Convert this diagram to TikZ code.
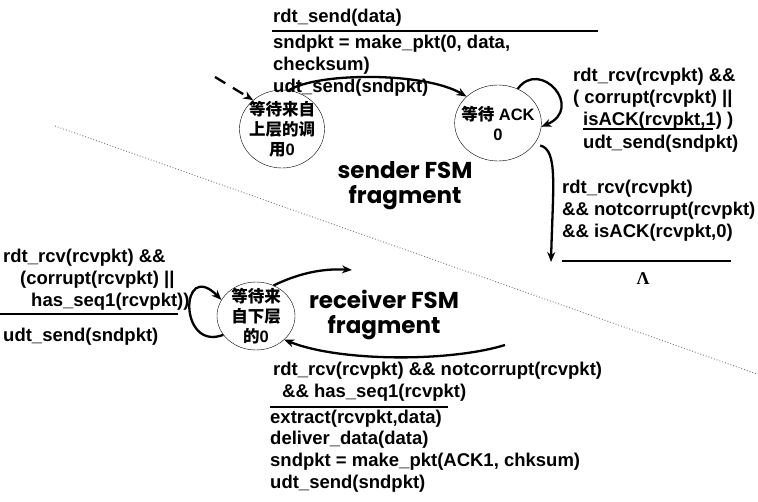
\documentclass[tikz,border=0pt]{standalone}
\usepackage{fontspec}
\setmainfont{Liberation Sans}
\newfontfamily\cjk{Noto Sans CJK SC}
\newfontfamily\comic{Poppins}
\newfontfamily\lam{Liberation Serif}
\usetikzlibrary{arrows.meta,shapes.geometric}
\tikzset{
  >={Stealth[length=10pt,width=8pt]},
  wait/.style={ellipse,draw,thin,inner sep=-6pt,align=center,
    font=\fontsize{16.5}{20}\selectfont\bfseries},
  trans/.style={->,line width=2.3pt},
  % anchored at the baseline of the last line
  guard/.style={anchor=base west,inner sep=0pt,align=left,
    font=\fontsize{18.5}{22}\selectfont\bfseries},
  fsm/.style={align=center,font=\comic\fontsize{23}{25}\selectfont\bfseries},
  bar/.style={line width=1.8pt},
}
\begin{document}
\begin{tikzpicture}[x={(1pt,0pt)},y={(0pt,-1pt)}]
  \useasboundingbox (0,0) rectangle (758,502);
  % separator
  \draw[black!55,dotted,line width=0.9pt] (55,126) -- (757,374);

  % sender fragment
  \node[wait,minimum width=85pt,minimum height=78pt] (s1) at (282,129)
    {{\cjk 等待来自}\\{\cjk 上层的调}\\{\cjk 用}0};
  \node[wait,minimum width=85pt,minimum height=76pt] (s2) at (498,123)
    {{\cjk 等待} ACK\\0};
  \coordinate (init) at (215,77);
  \coordinate (down) at (551,262);
  \draw[trans,dash pattern=on 12pt off 9pt] (init) -- (s1.135);
  \draw[trans] (s1.80) .. controls (318,72) and (425,72) .. (s2.140);
  \draw[trans] (s2.60) .. controls (540,58) and (585,108) .. (s2.-5);
  \draw[trans,shorten <=6pt] (s2.-30) .. controls (558,150) and (553,185) .. (down);

  \node[guard] (sendev) at (273,23) {rdt\_send(data)};
  \draw[bar] (272,31) -- (598,31);
  \node[guard] (sendact) at (273,93) {sndpkt = make\_pkt(0, data,\\checksum)\\udt\_send(sndpkt)};

  \node[guard] (loopev) at (573,126)
    {rdt\_rcv(rcvpkt) \&\&\\( corrupt(rcvpkt) ||\\\hspace*{10pt}isACK(rcvpkt,1) )};
  \draw[bar] (583,129) -- (713,129);
  \node[guard] (loopact) at (583,149) {udt\_send(sndpkt)};

  \node[guard] (ackev) at (562,238)
    {rdt\_rcv(rcvpkt)\\\&\& notcorrupt(rcvpkt)\\\&\& isACK(rcvpkt,0)};
  \draw[bar] (562,261) -- (731,261);
  \node[font=\lam\fontsize{18}{20}\selectfont\bfseries] (ackact) at (643,279) {Λ};

  \node[fsm] (sndtxt) at (405,186) {sender FSM\\fragment};

  % receiver fragment
  \node[wait,minimum width=78pt,minimum height=68pt] (r) at (256,316)
    {{\cjk 等待来}\\{\cjk 自下层}\\{\cjk 的}0};
  \coordinate (rout) at (352,270);
  \coordinate (rin) at (505,345);
  \draw[trans] (r.60) .. controls (295,275) and (320,268) .. (rout);
  \draw[trans] (rin) .. controls (450,362) and (340,362) .. (r.-40);
  \draw[trans] (r.-150) .. controls (178,352) and (180,258) .. (r.155);

  \node[guard] (dupev) at (3,307)
    {rdt\_rcv(rcvpkt) \&\&\\\hspace*{17pt}(corrupt(rcvpkt) ||\\\hspace*{28pt}has\_seq1(rcvpkt))};
  \draw[bar] (0,314) -- (178,314);
  \node[guard] (dupact) at (3,342) {udt\_send(sndpkt)};

  \node[fsm] (rcvtxt) at (384,315) {receiver FSM\\fragment};

  \node[guard] (okev) at (273,398)
    {rdt\_rcv(rcvpkt) \&\& notcorrupt(rcvpkt)\\\hspace*{9pt}\&\& has\_seq1(rcvpkt)};
  \draw[bar] (270,407) -- (448,407);
  \node[guard] (okact) at (270,489)
    {extract(rcvpkt,data)\\deliver\_data(data)\\sndpkt = make\_pkt(ACK1, chksum)\\udt\_send(sndpkt)};
\end{tikzpicture}
\end{document}
